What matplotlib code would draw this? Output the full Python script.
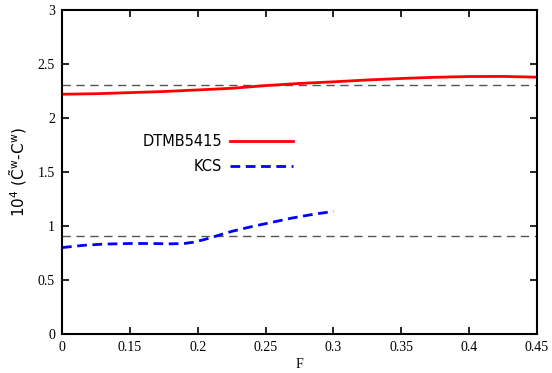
import matplotlib
matplotlib.use("Agg")
import matplotlib.pyplot as plt
from matplotlib.lines import Line2D

# ---- data ----
x_ticks = [0.1, 0.15, 0.2, 0.25, 0.3, 0.35, 0.4, 0.45]
x_tick_labels = ["0", "0.15", "0.2", "0.25", "0.3", "0.35", "0.4", "0.45"]
y_ticks = [0, 0.5, 1, 1.5, 2, 2.5, 3]
y_tick_labels = ["0", "0.5", "1", "1.5", "2", "2.5", "3"]

dtmb_F = [0.1, 0.125, 0.15, 0.175, 0.2, 0.225, 0.25, 0.275, 0.3, 0.325, 0.35, 0.375, 0.4, 0.425, 0.45]
dtmb_C = [2.22, 2.225, 2.235, 2.245, 2.26, 2.275, 2.30, 2.32, 2.335, 2.352, 2.366, 2.377, 2.384, 2.385, 2.378]

kcs_F = [0.1, 0.115, 0.13, 0.15, 0.165, 0.18, 0.19, 0.197, 0.205, 0.213, 0.225, 0.24, 0.255, 0.27, 0.285, 0.3]
kcs_C = [0.80, 0.82, 0.832, 0.838, 0.838, 0.835, 0.838, 0.85, 0.875, 0.905, 0.95, 0.995, 1.035, 1.075, 1.108, 1.135]

ref_levels = [2.31, 0.91]
series_names = ["DTMB5415", "KCS"]

# ---- figure ----
plt.rcParams["mathtext.fontset"] = "dejavusans"
plt.rcParams["mathtext.default"] = "regular"
fig = plt.figure(figsize=(5.52, 3.73), dpi=100)
ax = fig.add_axes([62 / 552, 1 - 334 / 373, 475 / 552, 324 / 373])

for lvl in ref_levels:
    ax.axhline(lvl, color="#555555", lw=1.0, dashes=(6, 4))

ax.plot(dtmb_F, dtmb_C, color="#ff0000", lw=2.0, solid_capstyle="butt")
ax.plot(kcs_F, kcs_C, color="#0000ff", lw=2.0, dashes=(3.5, 2))

ax.set_xlim(0.1, 0.45)
ax.set_ylim(0, 3)
ax.set_xticks(x_ticks)
ax.set_xticklabels(x_tick_labels, fontfamily="Liberation Serif", fontsize=10)
ax.set_yticks(y_ticks)
ax.set_yticklabels(y_tick_labels, fontfamily="Liberation Serif", fontsize=10)
ax.tick_params(direction="in", length=5, width=1.2, top=True, right=True, pad=5)
for s in ax.spines.values():
    s.set_linewidth(1.5)

ax.set_xlabel("F", fontfamily="Liberation Serif", fontsize=10, labelpad=3)
ax.set_ylabel(r"$10^4\ (\tilde{C}^w$-$C^w)$", fontsize=11, labelpad=6)

# manual key (gnuplot style: right-aligned text, sample to the right)
colors = ["#ff0000", "#0000ff"]
styles = [dict(), dict(dashes=(3.5, 2))]
key_y = [141, 166]
for name, c, st, ypx in zip(series_names, colors, styles, key_y):
    yf = 1 - ypx / 373
    fig.text(222 / 552, yf, name, ha="right", va="center", fontsize=10.5,
             fontfamily="DejaVu Sans")
    fig.add_artist(Line2D([230 / 552, 293 / 552], [yf, yf], color=c, lw=2.0,
                          transform=fig.transFigure, **st))

fig.savefig("out.png", dpi=100)
